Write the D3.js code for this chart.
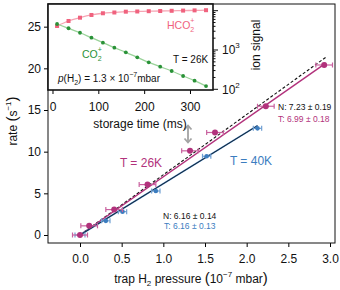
<!DOCTYPE html>
<head>
    <meta charset="utf-8" />
    <script src="https://d3js.org/d3.v7.min.js"></script>
    <style>
        body { margin: 0; background: #fff; }
        text { font-family: "Liberation Sans", Arial, sans-serif; }
    </style>
</head>
<body>
<script>
    // main plot data: rate vs trap H2 pressure
    var pressure26 = [0.0, 0.11, 0.41, 0.81, 1.32, 1.62, 2.23, 2.93];
    var rate26 = [0.0, 1.1, 3.05, 6.05, 10.1, 12.3, 15.45, 20.4];
    var xerr26 = [0.09, 0.1, 0.1, 0.1, 0.1, 0.1, 0.1, 0.1];
    var pressure40 = [0.0, 0.31, 0.51, 0.91, 1.52, 2.13];
    var rate40 = [0.0, 1.7, 2.8, 5.28, 9.45, 12.8];
    var xerr40 = [0.06, 0.05, 0.05, 0.05, 0.05, 0.05];
    var slopes = {n26: 7.23, t26: 6.99, n40: 6.16, t40: 6.16};
    var fitEnd26 = 2.95, fitEnd40 = 2.13;
    var xTicks = [0, 0.5, 1.0, 1.5, 2.0, 2.5, 3.0];
    var yTicks = [0, 5, 10, 15, 20, 25];

    // inset data: ion signal vs storage time
    var storageTime = [10, 35, 60, 85, 110, 135, 160, 185, 210, 235, 260, 285, 310, 335];
    var hco2 = [4080, 5470, 6640, 7780, 8600, 9000, 9440, 9550, 9710, 9820, 9940, 10060, 10180, 10300];
    var co2 = [4590, 3570, 2750, 2055, 1535, 1145, 874, 652, 486, 376, 292, 218, 166, 121];
    var insetXTicks = [0, 100, 200, 300];

    var width = 340, height = 290;
    var svg = d3.select("body").append("svg")
        .attr("width", width).attr("height", height);

    var magenta = "#b2327c", magentaLight = "#c9619f";
    var blue = "#3c7dbf", blueLight = "#6f9fd2";

    var x = d3.scaleLinear().domain([-0.384, 3.06]).range([48, 335]);
    var y = d3.scaleLinear().domain([-0.96, 27.72]).range([243, 4]);

    // axes
    svg.append("g").attr("transform", "translate(0,243)")
        .call(d3.axisBottom(x).tickValues(xTicks).tickFormat(d3.format(".1f")).tickSize(4).tickSizeOuter(0))
        .call(g => g.select(".domain").remove())
        .call(g => g.selectAll("text").attr("font-size", 12).attr("dy", "1.05em").attr("fill", "#111"));
    svg.append("g").attr("transform", "translate(48,0)")
        .call(d3.axisLeft(y).tickValues(yTicks).tickSize(4).tickSizeOuter(0))
        .call(g => g.select(".domain").remove())
        .call(g => g.selectAll("text").attr("font-size", 12).attr("fill", "#111"));
    svg.append("rect").attr("x", 48).attr("y", 4).attr("width", 287).attr("height", 239)
        .attr("fill", "none").attr("stroke", "#111").attr("stroke-width", 1);

    // fit lines
    function fitLine(slope, end, color, w, dash) {
        svg.append("line")
            .attr("x1", x(0)).attr("y1", y(0))
            .attr("x2", x(end)).attr("y2", y(slope * end))
            .attr("stroke", color).attr("stroke-width", w)
            .attr("stroke-dasharray", dash || null);
    }
    fitLine(slopes.n26, fitEnd26, "#111", 1.1, "3,2");
    fitLine(slopes.t26, fitEnd26, magenta, 1.5);
    fitLine(slopes.t40, fitEnd40, blue, 1.6);
    fitLine(slopes.n40, fitEnd40, "#111", 0.8);

    // points with x error bars
    function points(px, py, err, color, light, r) {
        var g = svg.append("g");
        px.forEach(function (d, i) {
            var cy = y(py[i]);
            g.append("line").attr("x1", x(d - err[i])).attr("x2", x(d + err[i]))
                .attr("y1", cy).attr("y2", cy).attr("stroke", light).attr("stroke-width", 1.2);
            [d - err[i], d + err[i]].forEach(function (e) {
                g.append("line").attr("x1", x(e)).attr("x2", x(e))
                    .attr("y1", cy - 2.5).attr("y2", cy + 2.5).attr("stroke", light).attr("stroke-width", 1.2);
            });
            g.append("circle").attr("cx", x(d)).attr("cy", cy).attr("r", r).attr("fill", color);
        });
    }
    points(pressure40, rate40, xerr40, blue, blueLight, 2.3);
    points(pressure26, rate26, xerr26, magenta, magentaLight, 3);

    // grey double arrow
    var arrow = svg.append("g").attr("stroke", "#a3a3a3").attr("stroke-width", 1.8).attr("fill", "none");
    arrow.append("line").attr("x1", 188).attr("x2", 188).attr("y1", 126).attr("y2", 142);
    arrow.append("polyline").attr("points", "184.5,129.5 188,125.5 191.5,129.5");
    arrow.append("polyline").attr("points", "184.5,138.5 188,142.5 191.5,138.5");

    // annotations
    svg.append("text").attr("x", 141).attr("y", 166.5).attr("text-anchor", "middle")
        .attr("font-size", 12).attr("fill", magenta).text("T = 26K");
    svg.append("text").attr("x", 251).attr("y", 165).attr("text-anchor", "middle")
        .attr("font-size", 12).attr("fill", blue).text("T = 40K");
    svg.append("text").attr("x", 278).attr("y", 110).attr("font-size", 8.5).attr("fill", "#111").text("N: 7.23 ± 0.19");
    svg.append("text").attr("x", 278).attr("y", 122).attr("font-size", 8.5).attr("fill", magenta).text("T: 6.99 ± 0.18");
    svg.append("text").attr("x", 163).attr("y", 218.5).attr("font-size", 8.5).attr("fill", "#111").text("N: 6.16 ± 0.14");
    svg.append("text").attr("x", 164).attr("y", 228.5).attr("font-size", 8.5).attr("fill", blue).text("T: 6.16 ± 0.13");

    // axis titles
    var xt = svg.append("text").attr("x", 191).attr("y", 283).attr("text-anchor", "middle")
        .attr("font-size", 12).attr("fill", "#111");
    xt.append("tspan").text("trap H");
    xt.append("tspan").attr("font-size", 8).attr("dy", 3).text("2");
    xt.append("tspan").attr("dy", -3).text(" pressure ");
    xt.append("tspan").attr("font-size", 15).text("(");
    xt.append("tspan").text("10");
    xt.append("tspan").attr("font-size", 8).attr("dy", -6).text("−7");
    xt.append("tspan").attr("dy", 6).text(" mbar");
    xt.append("tspan").attr("font-size", 15).text(")");

    var yt = svg.append("text").attr("transform", "translate(17,121) rotate(-90)")
        .attr("text-anchor", "middle").attr("font-size", 12).attr("fill", "#111");
    yt.append("tspan").text("rate ");
    yt.append("tspan").attr("font-size", 15).text("(");
    yt.append("tspan").text("s");
    yt.append("tspan").attr("font-size", 8).attr("dy", -6).text("−1");
    yt.append("tspan").attr("dy", 6).attr("font-size", 15).text(")");

    // ---------- inset ----------
    var ix = d3.scaleLinear().domain([-9.8, 350.2]).range([48, 213]);
    var iy = d3.scaleLog().domain([96, 14800]).range([90, 4]);

    svg.append("rect").attr("x", 48).attr("y", 4).attr("width", 165).attr("height", 86)
        .attr("fill", "#fff");

    svg.append("g").attr("transform", "translate(0,90)")
        .call(d3.axisBottom(ix).tickValues(insetXTicks).tickSize(4).tickSizeOuter(0))
        .call(g => g.select(".domain").remove())
        .call(g => g.selectAll("text").attr("font-size", 12).attr("dy", "1.15em").attr("fill", "#111"));

    var logTicks = iy.ticks();
    var ra = svg.append("g").attr("transform", "translate(213,0)");
    ra.selectAll("line").data(logTicks).join("line")
        .attr("x1", 0).attr("y1", d => iy(d)).attr("y2", d => iy(d))
        .attr("x2", d => [100, 1000, 10000].includes(d) ? 5 : 2.5)
        .attr("stroke", "#111").attr("stroke-width", 1);
    [100, 1000].forEach(function (d) {
        var t = ra.append("text").attr("x", 9).attr("y", iy(d) + 4.5).attr("font-size", 12).attr("fill", "#111");
        t.append("tspan").text("10");
        t.append("tspan").attr("font-size", 8).attr("dy", -6).text(Math.log10(d));
    });
    svg.append("text").attr("transform", "translate(260,45) rotate(-90)")
        .attr("text-anchor", "middle").attr("font-size", 12).attr("fill", "#111").text("ion signal");

    svg.append("text").attr("x", 140).attr("y", 128).attr("text-anchor", "middle")
        .attr("font-size", 12).attr("fill", "#111").text("storage time (ms)");

    var hLine = d3.line().x((d, i) => ix(storageTime[i])).y(d => iy(d)).curve(d3.curveMonotoneX);
    svg.append("path").attr("d", hLine(hco2)).attr("fill", "none").attr("stroke", "#f6a5b4").attr("stroke-width", 1.3);
    svg.append("path").attr("d", hLine(co2)).attr("fill", "none").attr("stroke", "#9ad39a").attr("stroke-width", 1.3);
    svg.append("g").selectAll("rect").data(hco2).join("rect")
        .attr("x", (d, i) => ix(storageTime[i]) - 2).attr("y", d => iy(d) - 2)
        .attr("width", 4).attr("height", 4).attr("fill", "#f0627e");
    svg.append("g").selectAll("circle").data(co2).join("circle")
        .attr("cx", (d, i) => ix(storageTime[i])).attr("cy", d => iy(d)).attr("r", 1.9).attr("fill", "#2a9238");

    var ht = svg.append("text").attr("x", 167).attr("y", 29).attr("font-size", 10.5).attr("fill", "#f0627e");
    ht.append("tspan").text("HCO");
    ht.append("tspan").attr("font-size", 7).attr("dy", 3).text("2");
    ht.append("tspan").attr("font-size", 7).attr("dx", -4).attr("dy", -9).text("+");
    var ct = svg.append("text").attr("x", 82).attr("y", 58).attr("font-size", 10.5).attr("fill", "#2a9238");
    ct.append("tspan").text("CO");
    ct.append("tspan").attr("font-size", 7).attr("dy", 3).text("2");
    ct.append("tspan").attr("font-size", 7).attr("dx", -4).attr("dy", -9).text("+");
    svg.append("text").attr("x", 173).attr("y", 63).attr("font-size", 10).attr("fill", "#111").text("T = 26K");
    var pt = svg.append("text").attr("x", 58).attr("y", 82).attr("font-size", 10).attr("fill", "#111");
    pt.append("tspan").attr("font-style", "italic").text("p");
    pt.append("tspan").text("(H");
    pt.append("tspan").attr("font-size", 7).attr("dy", 3).text("2");
    pt.append("tspan").attr("dy", -3).text(") = 1.3 × 10");
    pt.append("tspan").attr("font-size", 7).attr("dy", -5).text("−7");
    pt.append("tspan").attr("dy", 5).text("mbar");

    svg.append("rect").attr("x", 48).attr("y", 4).attr("width", 165).attr("height", 86)
        .attr("fill", "none").attr("stroke", "#111").attr("stroke-width", 1.6);
</script>
</body>
